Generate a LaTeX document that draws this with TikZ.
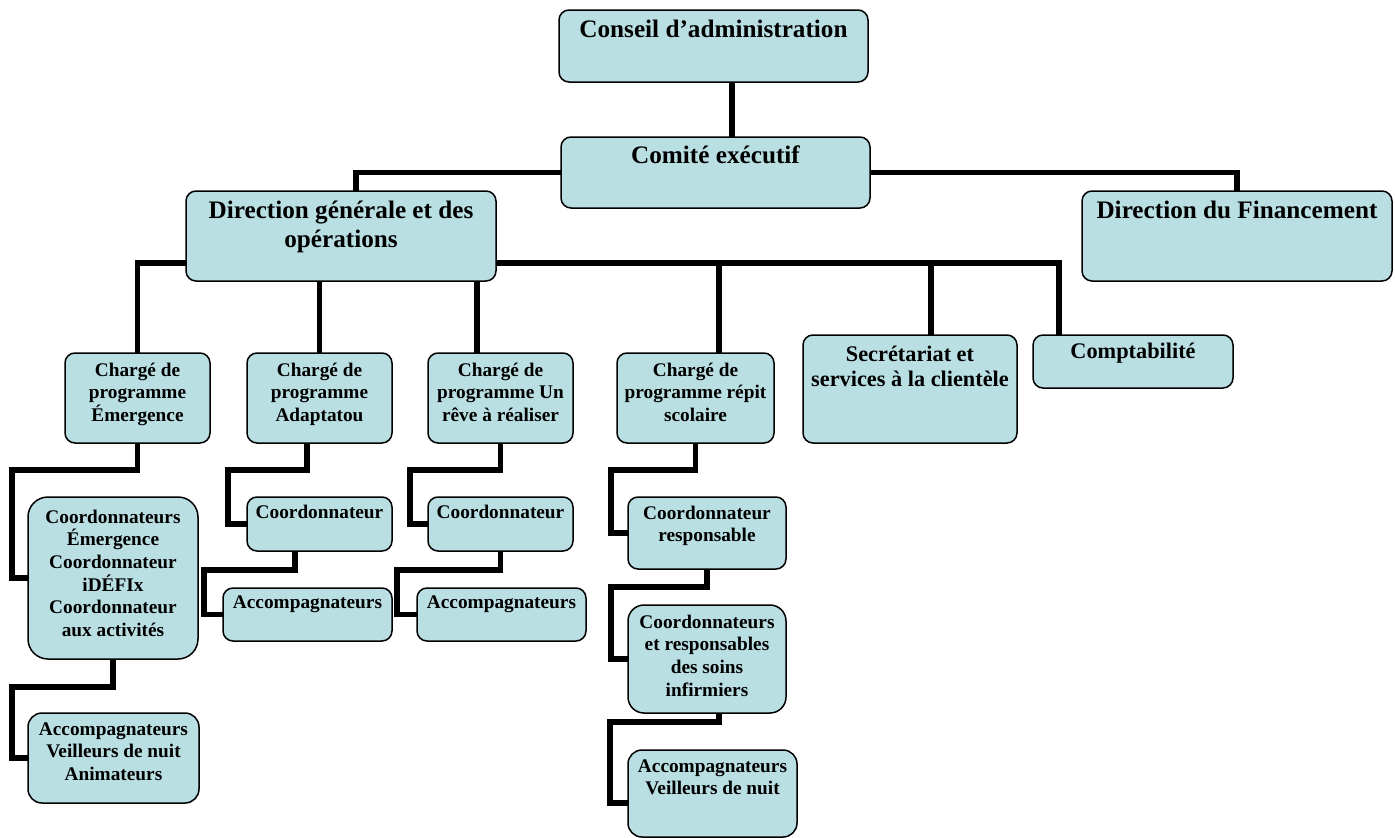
\documentclass[tikz,border=0pt]{standalone}
\usepackage{fontspec}
\setmainfont{Liberation Serif}
\usetikzlibrary{backgrounds}
\definecolor{boxfill}{RGB}{185,223,227}
\tikzset{
  orgbox/.style={draw=black, line width=1.5pt, fill=boxfill, rounded corners=10pt, inner sep=0pt, outer sep=0pt},
  orgtxt/.style={inner sep=0pt, align=center, font=\bfseries\fontsize{19.3}{22.6}\selectfont},
  bigtxt/.style={orgtxt, font=\bfseries\fontsize{25.2}{29}\selectfont},
  midtxt/.style={orgtxt, font=\bfseries\fontsize{22.3}{25}\selectfont},
  conn/.style={line width=5.5pt, black, line join=miter},
}
% #1 box options, #2 name, #3 x1, #4 y1, #5 x2, #6 y2, #7 first baseline offset, #8 text style, #9 text
\newcommand\obox[9][]{%
  \node[orgbox,#1,minimum width={(#5-#3)*1pt},minimum height={(#6-#4)*1pt}] (#2) at ({(#3+#5)/2},{(#4+#6)/2}) {};
  \node[#8,anchor=north] (#2-t) at ([yshift={-(#7-22)*1pt}]#2.north) {\rule{0pt}{22pt}#9};
}
\begin{document}
\begin{tikzpicture}[x=1pt,y=-1pt]
\useasboundingbox (0,0) rectangle (1395,838);

\obox{conseil}{559}{10}{868}{82}{27}{bigtxt}{Conseil d’administration}
\obox{comite}{561}{137}{870}{208}{26}{bigtxt}{Comité exécutif}
\obox{dg}{186}{191}{496}{281}{27}{bigtxt}{Direction générale et des\\opérations}
\obox{df}{1082}{191}{1392}{281}{27}{bigtxt}{Direction du Financement}

\obox{ch1}{65}{353}{210}{443}{23}{orgtxt}{Chargé de\\programme\\Émergence}
\obox{ch2}{247}{353}{392}{443}{23}{orgtxt}{Chargé de\\programme\\Adaptatou}
\obox{ch3}{428}{353}{573}{443}{23}{orgtxt}{Chargé de\\programme Un\\rêve à réaliser}
\obox{ch4}{617}{353}{774}{443}{23}{orgtxt}{Chargé de\\programme répit\\scolaire}
\obox{sec}{803}{335}{1017}{443}{26}{midtxt}{Secrétariat et\\services à la clientèle}
\obox{compta}{1033}{335}{1233}{388}{23}{midtxt}{Comptabilité}

\obox[rounded corners=20pt]{co1}{28}{497}{198}{659}{26}{orgtxt}{Coordonnateurs\\Émergence\\Coordonnateur\\iDÉFIx\\Coordonnateur\\aux activités}
\obox[rounded corners=14pt]{acc1}{28}{713}{199}{803}{22}{orgtxt}{Accompagnateurs\\Veilleurs de nuit\\Animateurs}
\obox{co2}{247}{497}{392}{551}{21}{orgtxt}{Coordonnateur}
\obox{acc2}{223}{588}{392}{641}{20}{orgtxt}{Accompagnateurs}
\obox{co3}{428}{497}{573}{551}{21}{orgtxt}{Coordonnateur}
\obox{acc3}{417}{588}{586}{641}{20}{orgtxt}{Accompagnateurs}
\obox{cr}{628}{497}{786}{569}{22}{orgtxt}{Coordonnateur\\responsable}
\obox[rounded corners=16pt]{cs}{628}{605}{786}{713}{23}{orgtxt}{Coordonnateurs\\et responsables\\des soins\\infirmiers}
\obox[rounded corners=14pt]{av}{628}{750}{797}{837}{22}{orgtxt}{Accompagnateurs\\Veilleurs de nuit}

\coordinate (xA) at (732,0);
\coordinate (xB) at (356,0);
\coordinate (hy) at (0,263);
\coordinate (xC) at (477,0);
\coordinate (xD) at (719,0);
\coordinate (xE) at (931,0);
\coordinate (xF) at (1059,0);
\coordinate (e1) at (12,470);
\coordinate (e2) at (12,687);
\coordinate (a1) at (228,470);
\coordinate (a2) at (204,570);
\coordinate (ax1) at (307,0);
\coordinate (ax2) at (295,0);
\coordinate (r1) at (410,470);
\coordinate (r2) at (397,570);
\coordinate (p1) at (611,470);
\coordinate (p2) at (611,587);
\coordinate (p3) at (610,722);

\begin{pgfonlayer}{background}
\fill[white] (0,0) rectangle (1395,838);
\draw[conn] (conseil.south -| xA) -- (comite.north -| xA);
\draw[conn] (comite.west) -| (dg.north -| xB);
\draw[conn] (comite.east) -| (df.north);
\draw[conn] (dg.west |- hy) -| (ch1.north);
\draw[conn] (dg.east |- hy) -| (compta.north -| xF);
\draw[conn] (hy -| xD) -- (ch4.north -| xD);
\draw[conn] (hy -| xE) -- (sec.north -| xE);
\draw[conn] (ch2.north |- dg.south) -- (ch2.north);
\draw[conn] (dg.south -| xC) -- (ch3.north -| xC);

\draw[conn] (ch1.south) |- (e1) |- (co1.west);
\draw[conn] (co1.south) |- (e2) |- (acc1.west);
\draw[conn] (ch2.south -| ax1) |- (a1) |- (co2.west);
\draw[conn] (co2.south -| ax2) |- (a2) |- (acc2.west);
\draw[conn] (ch3.south) |- (r1) |- (co3.west);
\draw[conn] (co3.south) |- (r2) |- (acc3.west);
\draw[conn] (ch4.south) |- (p1) |- (cr.west);
\draw[conn] (cr.south) |- (p2) |- (cs.west);
\draw[conn] (cs.south -| xD) |- (p3) |- ([yshift=-9.5pt]av.west);
\end{pgfonlayer}
\end{tikzpicture}
\end{document}
